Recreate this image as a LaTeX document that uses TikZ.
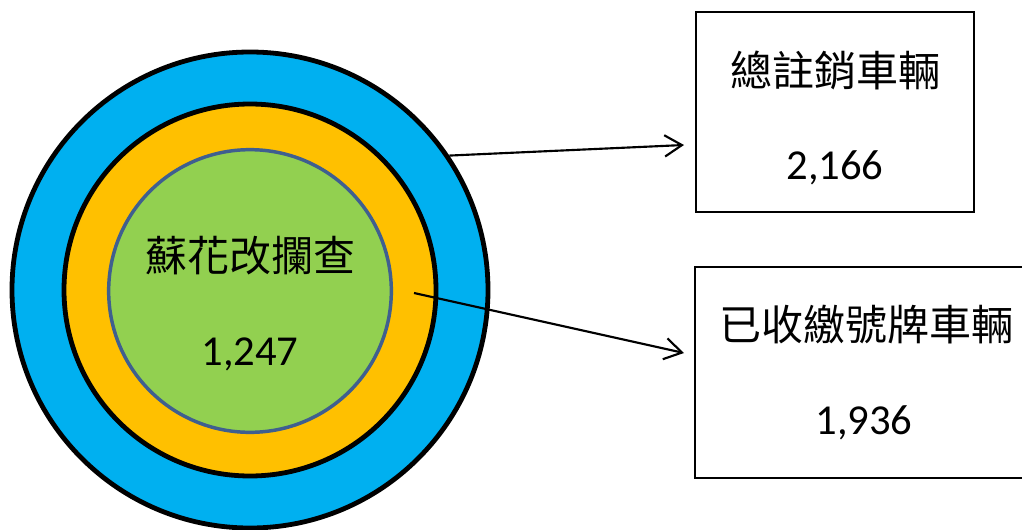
\documentclass[tikz,border=0pt]{standalone}
\usepackage{fontspec}
\newfontfamily\cjk{Noto Sans CJK TC}
\newfontfamily\numfont{Carlito}
\usetikzlibrary{arrows.meta}
\definecolor{ringblue}{HTML}{00B0F0}
\definecolor{ringorange}{HTML}{FFC000}
\definecolor{ringgreen}{HTML}{92D050}
\definecolor{greenedge}{HTML}{3F5F8F}
\tikzset{
  ring/.style={circle, draw=black, line width=3.6pt, inner sep=0pt},
  infobox/.style={rectangle, draw=black, line width=1.5pt, fill=white, inner sep=0pt},
  zhlabel/.style={font=\cjk\fontsize{31.5}{34}\selectfont, inner sep=0pt},
  numlabel/.style={font=\numfont\fontsize{32}{36}\selectfont, inner sep=0pt},
  pointer/.style={draw=black, line width=1.6pt, -{Straight Barb[length=13pt,width=16pt,line width=1.6pt]}}
}
\begin{document}
\begin{tikzpicture}[x=0.75pt,y=-0.75pt]
\useasboundingbox (0,0) rectangle (1022,529);
\clip (0,0) rectangle (1022,529);
\node[ring, fill=ringblue, minimum size=357pt] (outer) at (250,290) {};
\node[ring, fill=ringorange, minimum size=279pt] (middle) at (250,290) {};
\node[circle, draw=greenedge, line width=2.6pt, fill=ringgreen, inner sep=0pt, minimum size=212pt] (inner) at (250,291) {};
\node[zhlabel] (innertitle) at (250,256) {蘇花改攔查};
\node[numlabel] (innernum) at (250,354) {1,247};

\node[infobox, minimum width=208.5pt, minimum height=150pt] (box1) at (835,112) {};
\node[zhlabel] (box1title) at (835,70) {總註銷車輛};
\node[numlabel] (box1num) at (835,168) {2,166};

\node[infobox, minimum width=251pt, minimum height=158pt] (box2) at (862.5,372.5) {};
\node[zhlabel] (box2title) at (866,325) {已收繳號牌車輛};
\node[numlabel] (box2num) at (864,423) {1,936};

\coordinate (a1end) at (684,145);
\coordinate (a2start) at (414,293);
\coordinate (a2end) at (684,353);
\draw[pointer] (outer.34.7) -- (a1end);
\draw[pointer] (a2start) -- (a2end);
\end{tikzpicture}
\end{document}
